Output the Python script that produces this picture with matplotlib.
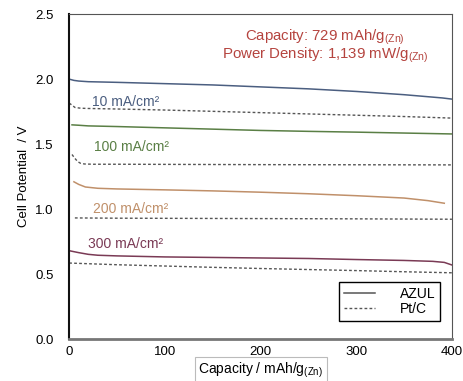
import matplotlib.pyplot as plt

plt.rcParams['font.family'] = ['Liberation Sans', 'DejaVu Sans']
plt.rcParams['mathtext.fontset'] = 'custom'
plt.rcParams['mathtext.rm'] = 'Liberation Sans'

# discharge curves (capacity in mAh/g(Zn), potential in V)
x_10_azul = [0, 5, 10, 20, 50, 100, 150, 200, 250, 300, 350, 390, 400]
y_10_azul = [2.00, 1.99, 1.985, 1.98, 1.975, 1.965, 1.955, 1.94, 1.925, 1.905, 1.88, 1.855, 1.846]
x_10_ptc = [0, 3, 6, 12, 20, 50, 100, 150, 200, 250, 300, 350, 400]
y_10_ptc = [1.815, 1.80, 1.782, 1.776, 1.774, 1.77, 1.762, 1.752, 1.742, 1.732, 1.722, 1.712, 1.70]

x_100_azul = [3, 10, 20, 50, 100, 150, 200, 250, 300, 350, 400]
y_100_azul = [1.648, 1.645, 1.64, 1.635, 1.625, 1.615, 1.605, 1.598, 1.592, 1.585, 1.578]
x_100_ptc = [3, 6, 9, 12, 16, 25, 50, 100, 200, 300, 400]
y_100_ptc = [1.42, 1.39, 1.365, 1.352, 1.347, 1.345, 1.345, 1.344, 1.342, 1.341, 1.34]

x_200_azul = [5, 10, 17, 30, 50, 100, 150, 200, 250, 300, 350, 375, 392]
y_200_azul = [1.21, 1.19, 1.17, 1.16, 1.155, 1.148, 1.14, 1.13, 1.118, 1.103, 1.085, 1.065, 1.045]
x_200_ptc = [6, 50, 100, 200, 300, 400]
y_200_ptc = [0.932, 0.93, 0.929, 0.927, 0.925, 0.922]

x_300_azul = [0, 10, 20, 30, 50, 100, 150, 200, 250, 300, 350, 380, 392, 400]
y_300_azul = [0.68, 0.665, 0.652, 0.645, 0.64, 0.632, 0.628, 0.624, 0.62, 0.612, 0.605, 0.598, 0.59, 0.57]
x_300_ptc = [0, 50, 100, 150, 200, 250, 300, 350, 400]
y_300_ptc = [0.585, 0.572, 0.562, 0.552, 0.543, 0.535, 0.527, 0.518, 0.51]

labels = ['10 mA/cm²', '100 mA/cm²', '200 mA/cm²', '300 mA/cm²']
label_x = [24, 26, 25, 20]
label_y = [1.82, 1.48, 1.00, 0.73]
colors = ['#4b5e80', '#5a7f45', '#c0906a', '#7a3a55']

fig = plt.figure(figsize=(4.64, 3.81), dpi=100)
ax = fig.add_axes([0.149, 0.110, 0.825, 0.853])

dash = (0, (2, 1.6))
ptc_color = '#555555'
ax.plot(x_10_azul, y_10_azul, color=colors[0], lw=1.1, label='AZUL')
ax.plot(x_10_ptc, y_10_ptc, color=ptc_color, lw=1.0, ls=dash, label='Pt/C')
ax.plot(x_100_azul, y_100_azul, color=colors[1], lw=1.1)
ax.plot(x_100_ptc, y_100_ptc, color=ptc_color, lw=1.0, ls=dash)
ax.plot(x_200_azul, y_200_azul, color=colors[2], lw=1.1)
ax.plot(x_200_ptc, y_200_ptc, color=ptc_color, lw=1.0, ls=dash)
ax.plot(x_300_azul, y_300_azul, color=colors[3], lw=1.1)
ax.plot(x_300_ptc, y_300_ptc, color=ptc_color, lw=1.0, ls=dash)

for lab, lx, ly, c in zip(labels, label_x, label_y, colors):
    ax.text(lx, ly, lab, color=c, fontsize=10, va='center')

red = '#b5443f'
ax.text(0.668, 0.93, r'Capacity: 729 mAh/g$_{\rm (Zn)}$', transform=ax.transAxes,
        ha='center', va='center', color=red, fontsize=10.8)
ax.text(0.668, 0.872, r'Power Density: 1,139 mW/g$_{\rm (Zn)}$', transform=ax.transAxes,
        ha='center', va='center', color=red, fontsize=10.8)

ax.set_xlim(0, 400)
ax.set_ylim(0, 2.5)
ax.set_xticks([0, 100, 200, 300, 400])
ax.set_yticks([0.0, 0.5, 1.0, 1.5, 2.0, 2.5])
ax.set_yticklabels(['0.0', '0.5', '1.0', '1.5', '2.0', '2.5'])
ax.tick_params(length=0, labelsize=9.5)
ax.tick_params(axis='y', pad=11)
ax.tick_params(axis='x', pad=5)

ax.spines['left'].set_color('#111111')
ax.spines['left'].set_linewidth(1.5)
ax.spines['bottom'].set_color('#777777')
ax.spines['bottom'].set_linewidth(2)
ax.spines['top'].set_color('#555555')
ax.spines['right'].set_color('#555555')

ax.set_ylabel('Cell Potential  / V', fontsize=9.5, labelpad=4)
ax.set_xlabel(r'Capacity / mAh/g$_{\rm (Zn)}$', fontsize=10, labelpad=2,
              bbox=dict(boxstyle='square,pad=0.25', fc='white', ec='#bbbbbb', lw=0.8))

leg = ax.legend(loc='lower right', bbox_to_anchor=(0.988, 0.034), fontsize=10,
                fancybox=False, edgecolor='black', handlelength=2.2,
                handletextpad=1.8, borderpad=0.35, labelspacing=0.1, framealpha=1)
leg.get_frame().set_linewidth(1.0)
for line in leg.get_lines():
    line.set_color('#555555')

fig.savefig('out.png', dpi=100)
